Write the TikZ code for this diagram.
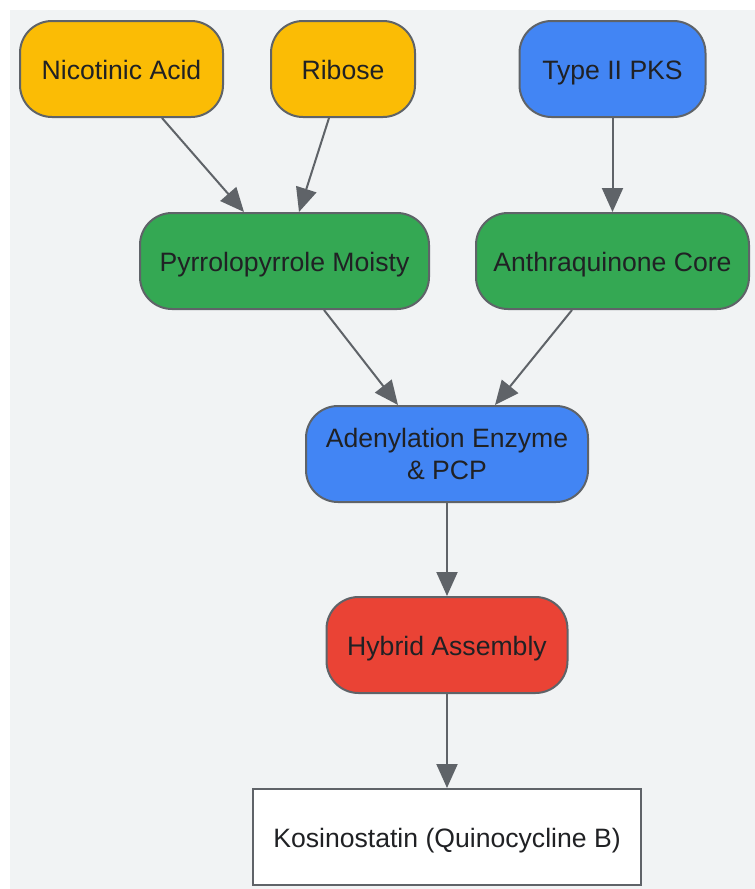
\documentclass[tikz,border=0pt]{standalone}
\usepackage{fontspec}
\setmainfont{Liberation Sans}
\usepackage{xcolor}
\usetikzlibrary{arrows.meta}
\definecolor{bggray}{HTML}{F1F3F4}
\definecolor{edgegray}{HTML}{5F6368}
\definecolor{txtgray}{HTML}{202124}
\definecolor{gyellow}{HTML}{FBBC05}
\definecolor{gblue}{HTML}{4285F4}
\definecolor{ggreen}{HTML}{34A853}
\definecolor{gred}{HTML}{EA4335}
\tikzset{stagebox/.style={draw=edgegray, line width=1pt, rounded corners=16pt,
		minimum height=48pt, text=txtgray, align=center,
		font=\fontsize{13.3}{16.3}\selectfont},
	oneline/.style={text height=12.8pt, text depth=2.3pt},
	productbox/.style={stagebox, oneline, rounded corners=0pt, fill=white}}

\begin{document}
\begin{tikzpicture}[
		> = {Triangle[length=12pt, width=10.5pt]}, % arrow head style
		x = 0.5pt, y = -0.5pt, % one unit per pixel
		line width = 1pt, % line style
	]
	\useasboundingbox (0,0) rectangle (755,889);
	\fill[bggray] (10,10) rectangle (755,889);
	\node[stagebox, oneline, fill=gyellow, minimum width=101.5pt] (nic) at (121.5,69){Nicotinic Acid};
	\node[stagebox, oneline, fill=gyellow, minimum width=72pt] (rib) at (343,69){Ribose};
	\node[stagebox, oneline, fill=gblue, minimum width=93pt] (pks) at (612.5,69){Type II PKS};
	\node[stagebox, oneline, fill=ggreen, minimum width=144.5pt] (pyr) at (284.5,261){Pyrrolopyrrole Moisty};
	\node[stagebox, oneline, fill=ggreen, minimum width=136.5pt] (anq) at (612.5,261){Anthraquinone Core};
	\node[stagebox, fill=gblue, minimum width=141pt] (ade) at (447,454){Adenylation Enzyme\\\& PCP};
	\node[stagebox, oneline, fill=gred, minimum width=120.5pt] (hyb) at (447,645){Hybrid Assembly};
	\node[productbox, minimum width=194pt] (kos) at (447,837){Kosinostatin (Quinocycline B)};
	\draw[->, edgegray] ([xshift=20.25pt]nic.south) to ([xshift=-20.25pt]pyr.north);
	\draw[->, edgegray] ([xshift=-7pt]rib.south) to ([xshift=7.25pt]pyr.north);
	\draw[->, edgegray] (pks) to (anq);
	\draw[->, edgegray] ([xshift=19.75pt]pyr.south) to ([xshift=-24.5pt]ade.north);
	\draw[->, edgegray] ([xshift=-20.25pt]anq.south) to ([xshift=24pt]ade.north);
	\draw[->, edgegray] (ade) to (hyb);
	\draw[->, edgegray] (hyb) to (kos);
\end{tikzpicture}
\end{document}
